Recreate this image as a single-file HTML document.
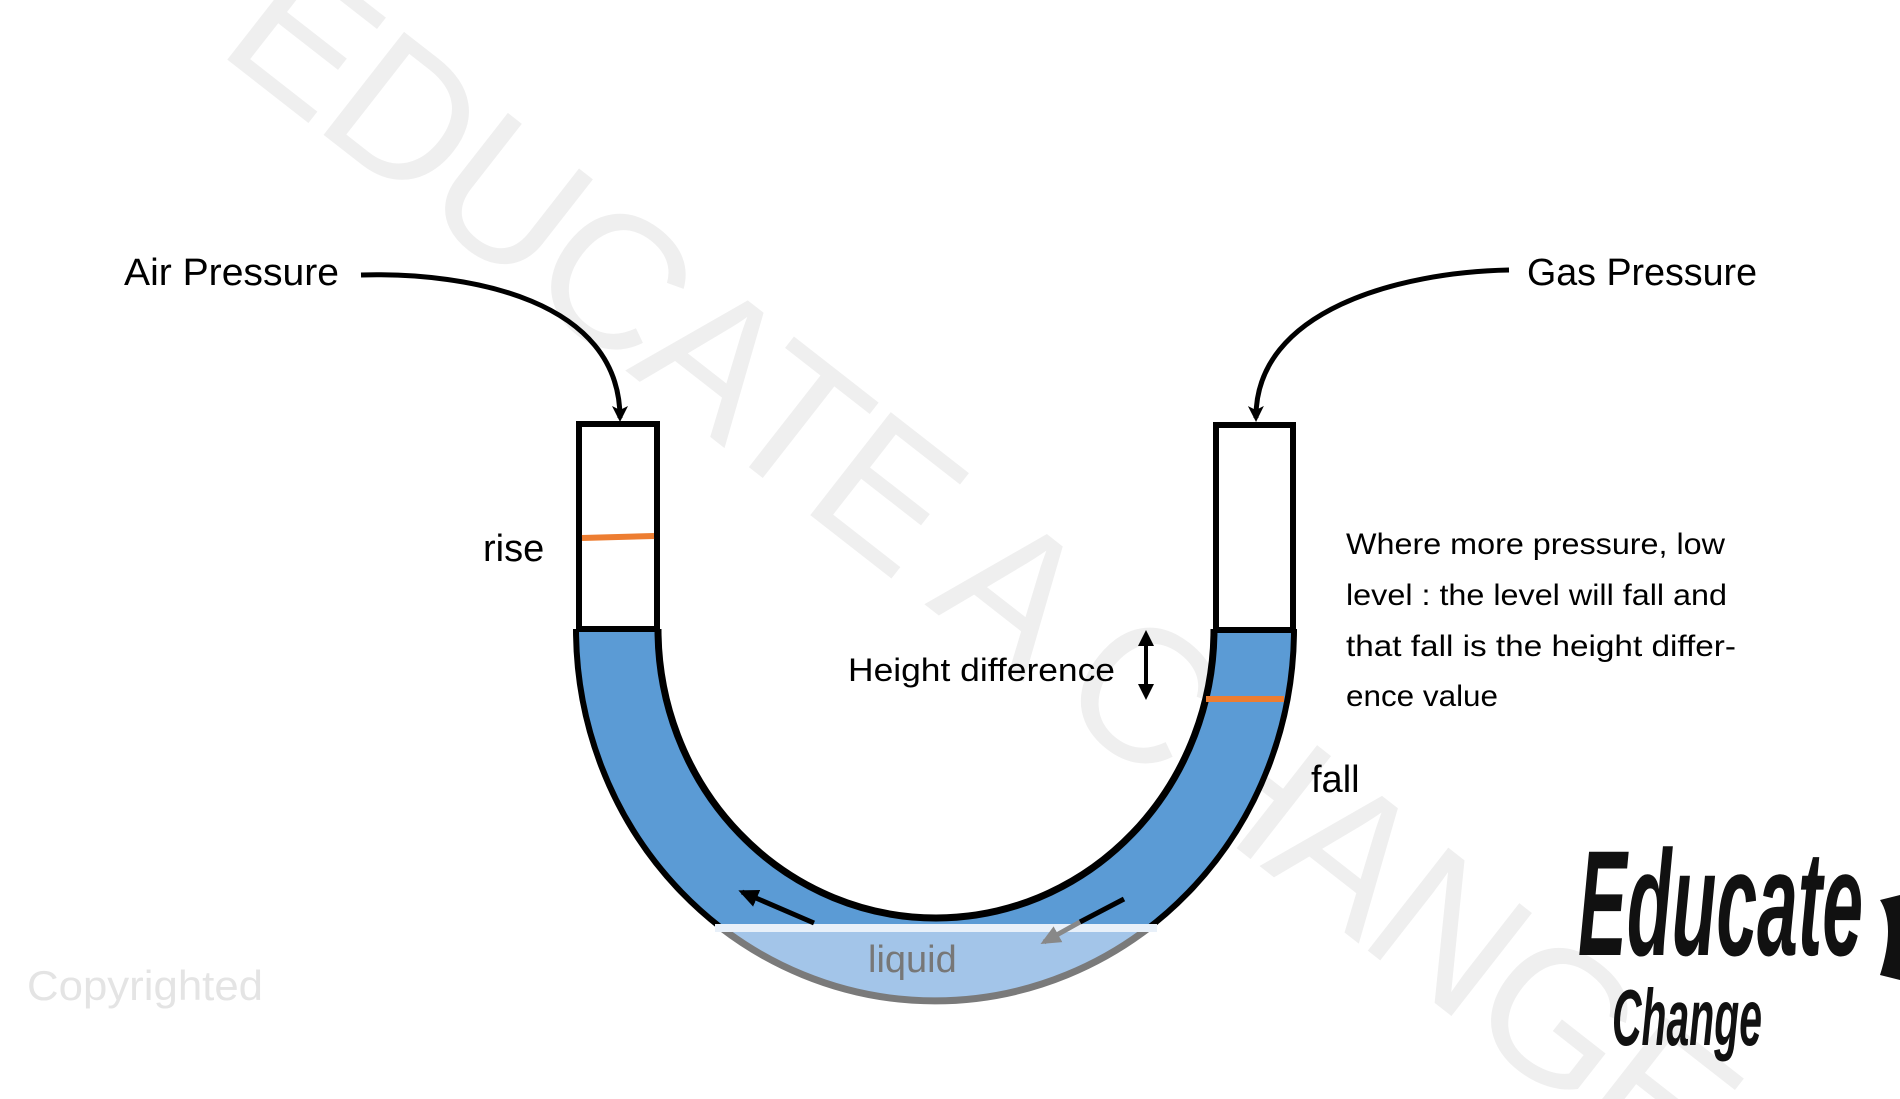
<!DOCTYPE html>
<html><head><meta charset="utf-8"><style>
html,body{margin:0;padding:0;background:#fff;width:1900px;height:1099px;overflow:hidden}
svg{display:block}
text{font-family:"Liberation Sans",sans-serif}
</style></head><body>
<svg width="1900" height="1099" viewBox="0 0 1900 1099" xmlns="http://www.w3.org/2000/svg">
<defs>
<marker id="ah" markerWidth="16" markerHeight="16" refX="12" refY="8" orient="auto" markerUnits="userSpaceOnUse"><path d="M0,0 L16,8 L0,16 L4,8 Z" fill="#000"/></marker>
<marker id="ah2" markerWidth="20" markerHeight="20" refX="16" refY="10" orient="auto" markerUnits="userSpaceOnUse"><path d="M0,1 L20,10 L0,19 Z" fill="#000"/></marker>
<marker id="ah3" markerWidth="20" markerHeight="20" refX="16" refY="10" orient="auto" markerUnits="userSpaceOnUse"><path d="M0,1 L20,10 L0,19 Z" fill="#888"/></marker>
<clipPath id="low"><rect x="0" y="930" width="1900" height="200"/></clipPath>
</defs>

<!-- watermark -->
<text x="0" y="0" transform="translate(215,50) rotate(38)" font-size="190" fill="#efefef" textLength="1850" lengthAdjust="spacing">EDUCATE A CHANGE</text>

<!-- U tube liquid -->
<path d="M576,629 A359,372 0 0 0 1294,629 L1214,629 A278,289 0 0 1 658,629 Z" fill="#5b9bd5"/>
<g clip-path="url(#low)">
<path d="M576,629 A359,372 0 0 0 1294,629 L1214,629 A278,289 0 0 1 658,629 Z" fill="#a3c5e9"/>
</g>
<path d="M576,629 A359,372 0 0 0 1294,629" fill="none" stroke="#000" stroke-width="6"/>
<path d="M658,629 A278,289 0 0 0 1214,629" fill="none" stroke="#000" stroke-width="7"/>
<g clip-path="url(#low)">
<path d="M576,629 A359,372 0 0 0 1294,629" fill="none" stroke="#7a7a7a" stroke-width="7"/>
</g>
<rect x="715" y="924" width="442" height="8" fill="#e8f0f9"/>

<!-- tubes -->
<rect x="579" y="424" width="78" height="205" fill="#fff" stroke="#000" stroke-width="6"/>
<rect x="1216" y="425" width="77" height="205" fill="#fff" stroke="#000" stroke-width="6"/>
<line x1="582" y1="538" x2="654" y2="536" stroke="#ed7d31" stroke-width="6"/>
<line x1="1206" y1="699" x2="1284" y2="699" stroke="#ed7d31" stroke-width="6"/>

<!-- flow arrows -->
<line x1="814" y1="923" x2="742" y2="892" stroke="#000" stroke-width="5" marker-end="url(#ah2)"/>
<line x1="1124" y1="899" x2="1080" y2="922" stroke="#000" stroke-width="5"/>
<line x1="1080" y1="922" x2="1044" y2="942" stroke="#888" stroke-width="5" marker-end="url(#ah3)"/>
<text x="868" y="972" font-size="38" fill="#777">liquid</text>

<!-- height diff -->
<text x="848" y="681" font-size="32" fill="#000" textLength="267" lengthAdjust="spacingAndGlyphs">Height difference</text>
<line x1="1146" y1="640" x2="1146" y2="690" stroke="#000" stroke-width="4"/>
<path d="M1138,646 L1146,630 L1154,646 Z" fill="#000"/>
<path d="M1138,684 L1146,700 L1154,684 Z" fill="#000"/>

<!-- pressure labels and arrows -->
<text x="124" y="285" font-size="38" fill="#000" textLength="215" lengthAdjust="spacingAndGlyphs">Air Pressure</text>
<text x="1527" y="285" font-size="38" fill="#000" textLength="230" lengthAdjust="spacingAndGlyphs">Gas Pressure</text>
<path d="M361,275 C470,272 620,300 620,418" fill="none" stroke="#000" stroke-width="5" marker-end="url(#ah)"/>
<path d="M1509,270 C1400,272 1255,310 1256,418" fill="none" stroke="#000" stroke-width="5" marker-end="url(#ah)"/>

<text x="483" y="561" font-size="38" fill="#000">rise</text>
<text x="1311" y="792" font-size="38" fill="#000">fall</text>

<g font-size="30" fill="#000">
<text x="1346" y="554" textLength="379" lengthAdjust="spacingAndGlyphs">Where more pressure, low</text>
<text x="1346" y="605" textLength="381" lengthAdjust="spacingAndGlyphs">level : the level will fall and</text>
<text x="1346" y="656" textLength="390" lengthAdjust="spacingAndGlyphs">that fall is the height differ-</text>
<text x="1346" y="706" textLength="152" lengthAdjust="spacingAndGlyphs">ence value</text>
</g>

<text x="27" y="1000" font-size="42" fill="#e4e4e4" textLength="236" lengthAdjust="spacingAndGlyphs">Copyrighted</text>

<!-- logo -->
<text x="1578" y="955" font-family="Liberation Serif, serif" font-style="italic" font-weight="bold" font-size="150" fill="#111" textLength="285" lengthAdjust="spacingAndGlyphs">Educate</text>
<text x="1612" y="1045" font-family="Liberation Serif, serif" font-style="italic" font-weight="bold" font-size="80" fill="#111" textLength="150" lengthAdjust="spacingAndGlyphs">Change</text>
<path d="M1880,900 q16,25 0,75 l20,5 l0,-85 Z" fill="#111"/>
</svg>
</body></html>
